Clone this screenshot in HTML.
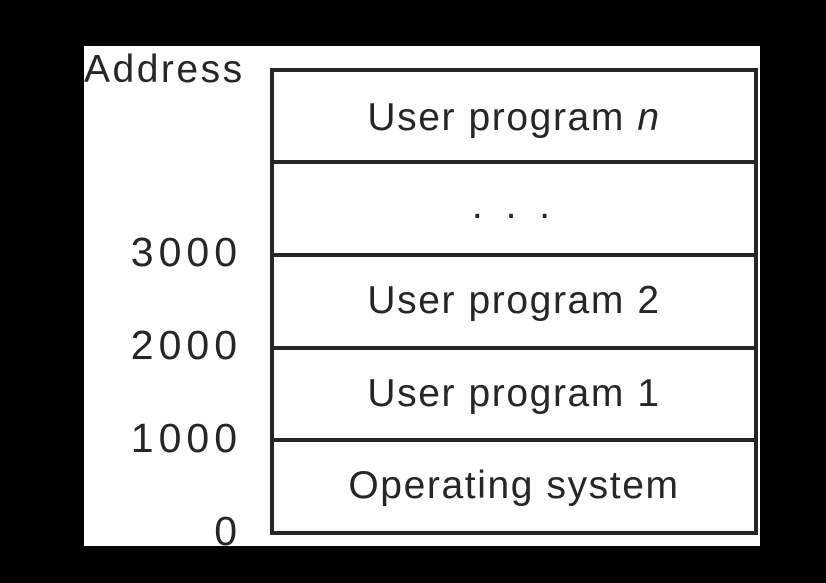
<!DOCTYPE html>
<html><head><style>
body{margin:0;width:826px;height:583px;background:#000;position:relative;overflow:hidden;font-family:"Liberation Sans",sans-serif;color:#262626}
#w{position:absolute;left:84px;top:46px;width:676px;height:500px;background:#fff;overflow:hidden}
.t{position:absolute;font-size:39px;line-height:1;white-space:nowrap;letter-spacing:1.6px}
.r{position:absolute;left:188px;width:484px;text-align:center}
.l{position:absolute;right:523px;text-align:right;font-size:41px;letter-spacing:5px;margin-right:-5px}
.h{position:absolute;left:186px;width:488px;height:4px;background:#262626}
.v{position:absolute;top:22px;width:4px;height:467px;background:#262626}
</style></head><body>
<div id="w">
<div class="t" style="left:0;top:4px;letter-spacing:2.5px">Address</div>
<div class="h" style="top:22px"></div>
<div class="h" style="top:114px"></div>
<div class="h" style="top:207px"></div>
<div class="h" style="top:300px"></div>
<div class="h" style="top:392px"></div>
<div class="h" style="top:485px"></div>
<div class="v" style="left:186px"></div>
<div class="v" style="left:670px"></div>
<div class="t r" style="top:52px">User program <i>n</i></div>
<div class="t r" style="top:140px;letter-spacing:6px">. . .</div>
<div class="t r" style="top:235px">User program 2</div>
<div class="t r" style="top:328px">User program 1</div>
<div class="t r" style="top:420px">Operating system</div>
<div class="t l" style="top:186px">3000</div>
<div class="t l" style="top:279px">2000</div>
<div class="t l" style="top:372px">1000</div>
<div class="t l" style="top:465px">0</div>
</div>
</body></html>
